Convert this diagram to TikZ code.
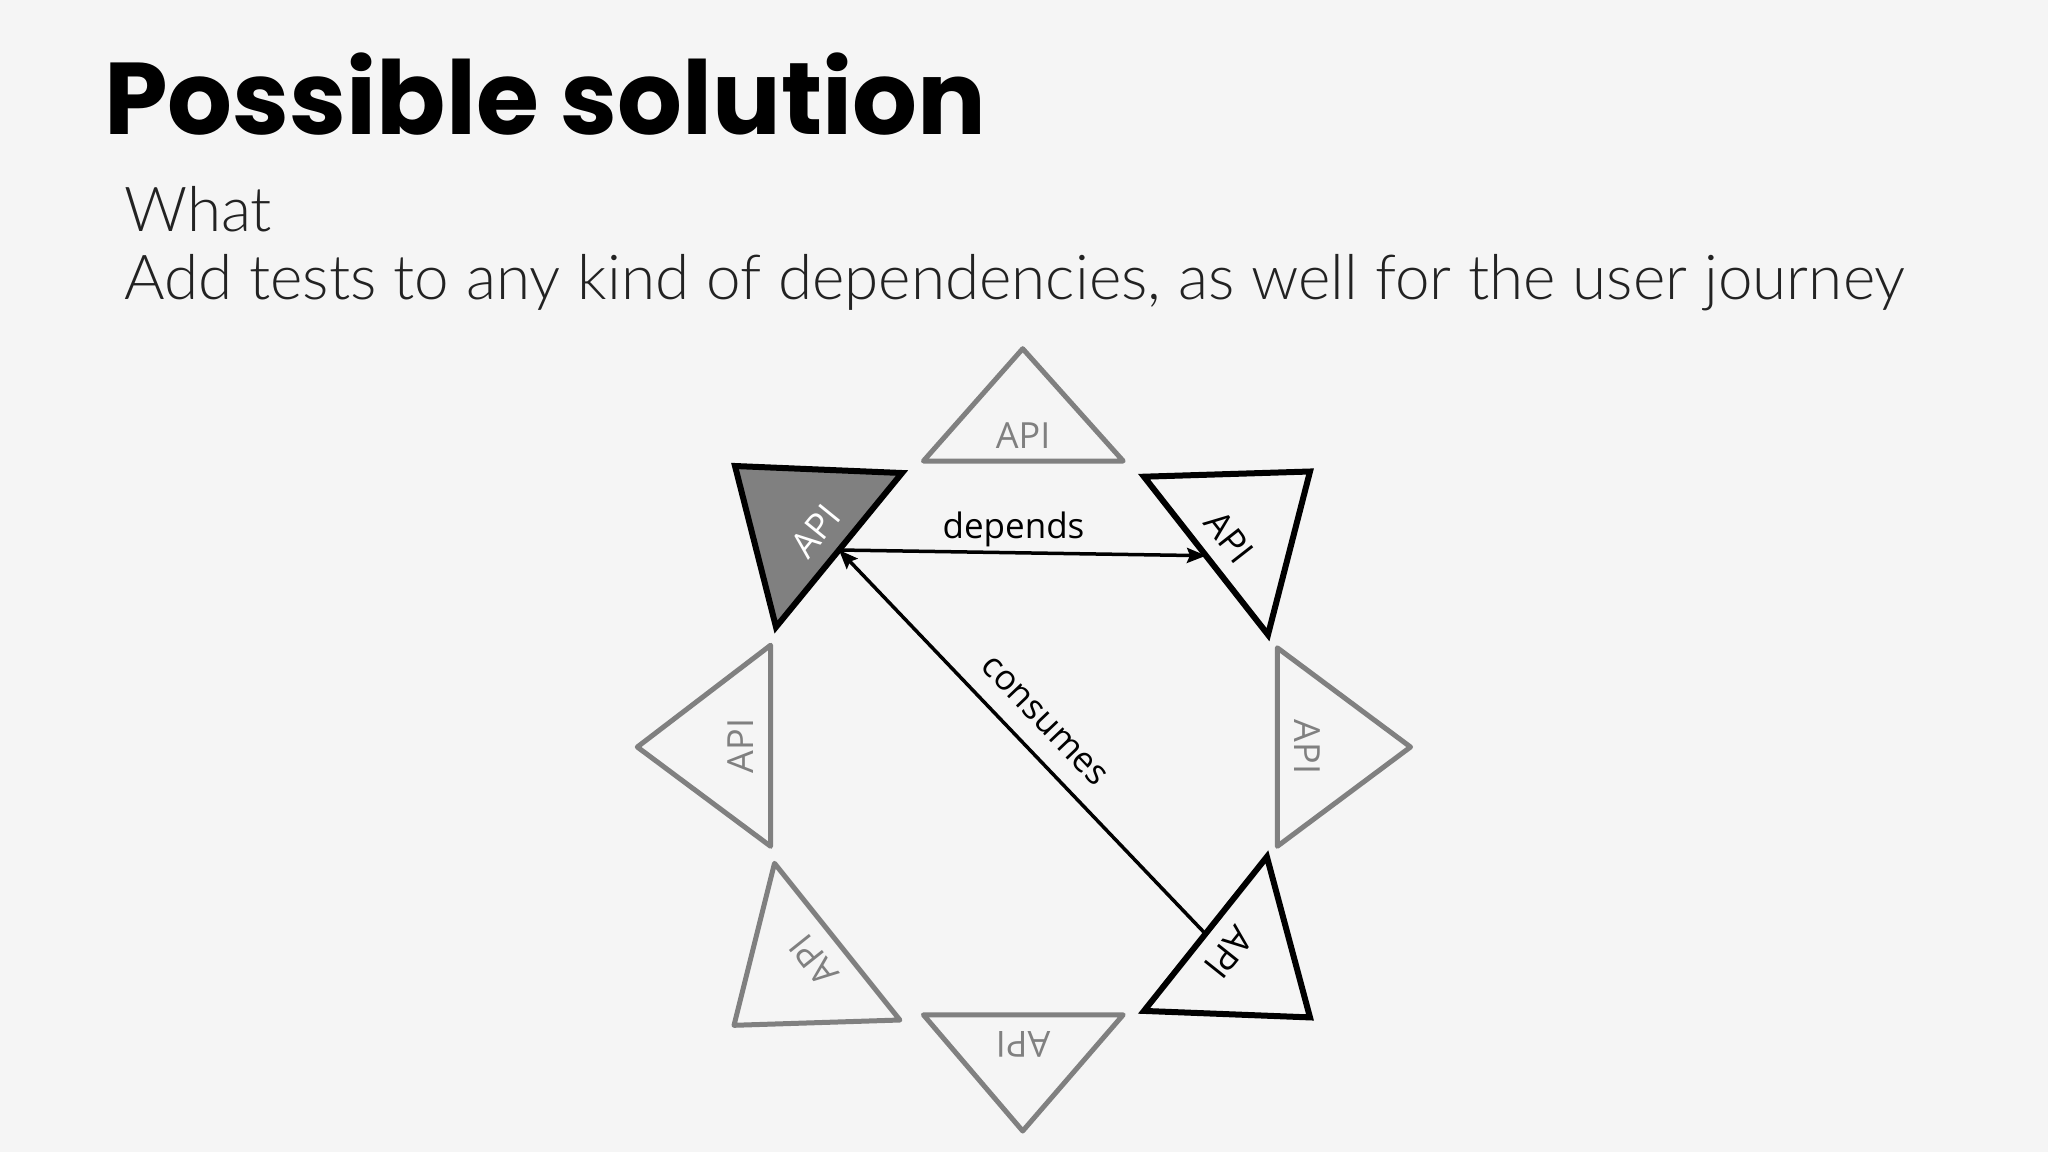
\documentclass[tikz,border=0pt]{standalone}
\usepackage{fontspec}
\setmainfont{Open Sans}
\newfontfamily\titlefont{Poppins}
\newfontfamily\bodyfont{Lato Light}
\usetikzlibrary{arrows.meta,calc}
\definecolor{bg}{HTML}{F5F5F5}
\definecolor{midgray}{HTML}{808080}
\definecolor{ink}{HTML}{222222}
\newcommand\apitri[8]{%
  \coordinate (#1-a) at #2;
  \coordinate (#1-b) at #3;
  \coordinate (#1-c) at #4;
  \coordinate (#1-m) at ($(#1-b)!0.5!(#1-c)$);
  \draw[#5] (#1-a) -- (#1-b) -- (#1-c) -- cycle;
  \node[#6, rotate=#7] (#1) at ($(#1-m)!#8!(#1-a)$) {API};
}
\begin{document}
\begin{tikzpicture}[x=1pt,y=-1pt,
  graytri/.style={draw=midgray, line width=5pt, line join=round},
  blacktri/.style={draw=black, line width=6pt, line join=miter},
  darktri/.style={draw=black, fill=midgray, line width=6pt, line join=miter},
  graylbl/.style={text=midgray, font=\fontsize{36}{40}\selectfont, inner sep=0pt},
  blacklbl/.style={text=black, font=\fontsize{36}{40}\selectfont, inner sep=0pt},
  whitelbl/.style={text=white, font=\fontsize{36}{40}\selectfont, inner sep=0pt},
  conn/.style={draw=black, line width=3.5pt, -{Stealth[length=19pt,width=15pt,inset=3pt]}},
  connlbl/.style={text=black, font=\fontsize{35}{40}\selectfont, inner sep=0pt}]
\fill[bg] (0,0) rectangle (2048,1152);
\useasboundingbox (0,0) rectangle (2048,1152);

\node[anchor=base west, inner sep=0pt, font=\titlefont\bfseries\fontsize{102}{120}\selectfont] (title) at (104,134) {Possible solution};
\node[anchor=base west, inner sep=0pt, text=ink, font=\bodyfont\fontsize{62}{70}\selectfont] (what) at (124,231) {What};
\node[anchor=base west, inner sep=0pt, text=ink, font=\bodyfont\fontsize{62}{70}\selectfont] (desc) at (124,299) {Add tests to any kind of dependencies, as well for the user journey};

\apitri{top}{(1022.7,348.7)}{(923.4,461)}{(1123.2,461)}{graytri}{graylbl}{0}{25pt}
\apitri{tl}{(735,466)}{(902,473)}{(776,627)}{darktri}{whitelbl}{51}{30pt}
\apitri{tr}{(1310,471.5)}{(1144,476.7)}{(1268,634.7)}{blacktri}{blacklbl}{-52}{30pt}
\apitri{lt}{(637.3,747)}{(770.6,645.2)}{(770.6,846.3)}{graytri}{graylbl}{90}{30pt}
\apitri{rt}{(1410.5,747)}{(1277.3,647.8)}{(1277.3,846.3)}{graytri}{graylbl}{-90}{30pt}
\apitri{bl}{(734,1025.3)}{(774.5,863.3)}{(899.9,1020)}{graytri}{graylbl}{128.6}{30pt}
\apitri{br}{(1310,1017.4)}{(1266.9,856.8)}{(1144,1010.9)}{blacktri}{blacklbl}{-128.6}{30pt}
\apitri{bt}{(1022.7,1131)}{(923.4,1014.8)}{(1123.2,1014.8)}{graytri}{graylbl}{180}{30pt}

\draw[conn] (tl-m) -- (tr-m);
\node[connlbl, anchor=south] (dep) at ($(tl-m)!0.5!(tr-m)+(-9,-6)$) {depends};
\draw[conn] (br-m) -- (tl-m);
\coordinate (cm) at ($(tl-m)!0.5!(br-m)$);
\node[connlbl, rotate=-46.4] (cons) at ($(cm)!30pt!90:(br-m)$) {consumes};
\end{tikzpicture}
\end{document}
